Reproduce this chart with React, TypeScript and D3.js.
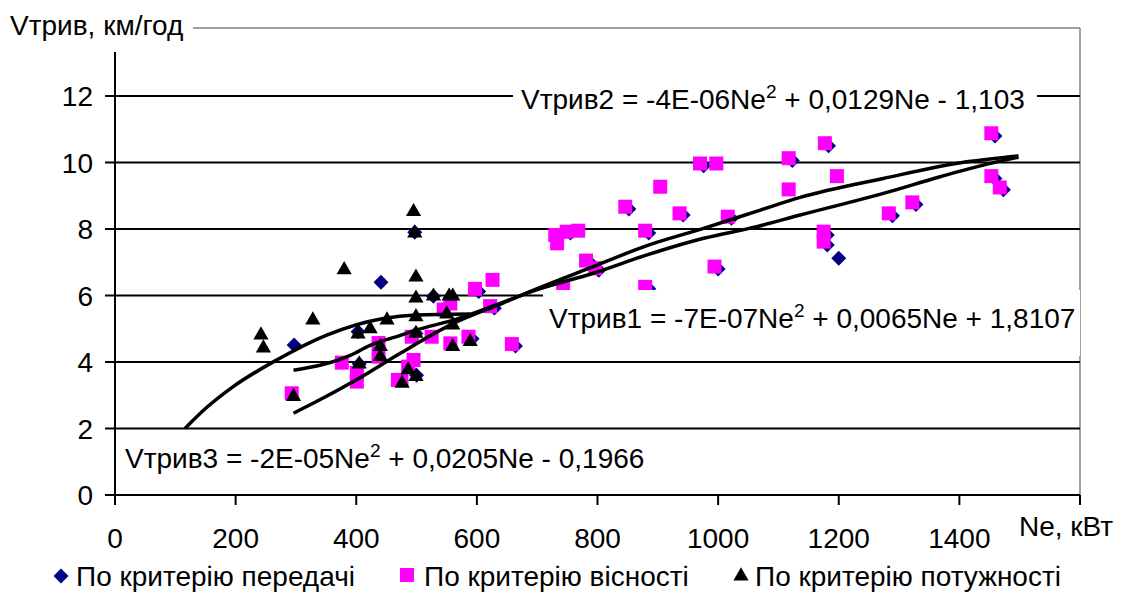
import React from 'react';
import * as d3 from 'd3';

// axis ticks
const neTicks = [0, 200, 400, 600, 800, 1000, 1200, 1400];
const vTicks = [0, 2, 4, 6, 8, 10, 12];

const seriesNames = ['По критерію передачі', 'По критерію вісності', 'По критерію потужності'];

// [Ne, Vтрив]
const peredachi: [number, number][] = [
  [297, 4.51], [403, 4.91], [405, 3.94], [441, 6.4], [497, 7.9], [499, 4.86], [500, 3.6],
  [528, 5.98], [592, 4.7], [603, 6.12], [629, 5.62], [664, 4.48], [737, 7.78], [755, 7.88],
  [787, 7.0], [802, 6.76], [852, 8.6], [885, 7.88], [885, 6.2], [942, 8.42], [976, 9.9],
  [1000, 6.8], [1022, 8.32], [1123, 10.06], [1183, 10.5], [1181, 7.82], [1181, 7.52],
  [1200, 7.12], [1289, 8.4], [1328, 8.74], [1459, 10.8], [1459, 9.52], [1473, 9.18],
];
const visnosti: [number, number][] = [
  [293, 3.06], [376, 3.98], [401, 3.67], [401, 3.41], [437, 4.57], [437, 4.16], [469, 3.46],
  [475, 3.46], [486, 3.86], [492, 4.76], [495, 4.06], [525, 4.76], [545, 5.58], [556, 5.76],
  [556, 4.56], [586, 4.76], [597, 6.2], [622, 5.68], [626, 6.47], [658, 4.54], [730, 7.82],
  [733, 7.57], [743, 6.26], [749, 7.92], [768, 7.95], [781, 7.05], [796, 6.82], [846, 8.67],
  [879, 7.95], [879, 6.26], [904, 9.27], [936, 8.47], [970, 9.97], [994, 6.87], [997, 9.97],
  [1016, 8.37], [1117, 10.13], [1117, 9.19], [1175, 7.92], [1175, 7.62], [1177, 10.58],
  [1197, 9.59], [1283, 8.47], [1322, 8.8], [1453, 10.88], [1453, 9.59], [1467, 9.25],
];
const potuzhnosti: [number, number][] = [
  [242, 4.81], [246, 4.42], [296, 2.96], [328, 5.26], [380, 6.77], [403, 4.84], [405, 3.94],
  [423, 5.0], [440, 4.46], [440, 4.16], [451, 5.26], [476, 3.36], [486, 3.76], [495, 8.52],
  [497, 7.88], [499, 6.55], [499, 5.92], [499, 5.36], [499, 4.86], [499, 3.56], [528, 5.98],
  [550, 5.44], [554, 5.98], [560, 5.98], [560, 5.11], [560, 4.46], [589, 4.61],
];

// trend lines, points
const trend1: [number, number][] = [
  [296, 3.75], [390, 4.2], [423, 4.5], [473, 4.8], [499, 4.96], [561, 5.26], [644, 5.8],
  [699, 6.17], [793, 6.67], [882, 7.22], [976, 7.72], [1064, 8.07], [1136, 8.42],
  [1274, 9.07], [1368, 9.57], [1446, 9.95], [1498, 10.16],
];
const trend2: [number, number][] = [
  [296, 2.46], [334, 2.81], [390, 3.36], [423, 3.71], [473, 4.26], [561, 5.16], [644, 5.78],
  [699, 6.2], [793, 6.87], [882, 7.5], [976, 8.02], [1070, 8.57], [1136, 8.95],
  [1274, 9.52], [1412, 10.02], [1498, 10.2],
];
const trend3: [number, number][] = [
  [116, 2.0], [150, 2.6], [196, 3.26], [268, 4.06], [351, 4.81], [445, 5.31], [499, 5.41],
  [589, 5.44],
];

const eq2 = ['Vтрив2 = -4E-06Ne', '2', ' + 0,0129Ne - 1,103'];
const eq1 = ['Vтрив1 = -7E-07Ne', '2', ' + 0,0065Ne + 1,8107'];
const eq3 = ['Vтрив3 = -2E-05Ne', '2', ' + 0,0205Ne - 0,1966'];

const W = 1133;
const H = 614;
const FONT = 'Liberation Sans, Arial, sans-serif';
const FS = 28;

const x = d3.scaleLinear().domain([0, 1600]).range([115, 1080]);
const y = d3.scaleLinear().domain([0, 14]).range([495, 29.5]);

const diamond = d3.symbol().type(d3.symbolSquare).size(112)();
const square = d3.symbol().type(d3.symbolSquare).size(196)();
const triangle = d3.symbol().type(d3.symbolTriangle).size(100)();

const line = d3.line<[number, number]>().x(d => x(d[0])).y(d => y(d[1])).curve(d3.curveMonotoneX);

function Eq({ parts, tx, ty }: { parts: string[]; tx: number; ty: number }) {
  return (
    <text x={tx} y={ty} fontSize={FS}>
      {parts[0]}
      <tspan dy={-11} fontSize={19}>{parts[1]}</tspan>
      <tspan dy={11}>{parts[2]}</tspan>
    </text>
  );
}

export default function App() {
  const x0 = x(0), x1 = x(1600), y0 = y(0);
  return (
    <svg width={W} height={H} style={{ position: 'absolute', left: 0, top: 0, background: '#fff' }}
      fontFamily={FONT}>
      {/* frame */}
      <line x1={193} x2={x1} y1={28} y2={28} stroke="#808080" strokeWidth={1.5} />
      <line x1={x1} x2={x1} y1={28} y2={y0} stroke="#808080" strokeWidth={1.5} />
      {/* grid */}
      {vTicks.filter(v => v > 0).map(v => (
        <line key={v} x1={x0} x2={x1} y1={y(v)} y2={y(v)} stroke="#000" strokeWidth={2} />
      ))}
      {/* y axis */}
      <line x1={x0} x2={x0} y1={52} y2={y0 + 10} stroke="#000" strokeWidth={2} />
      {vTicks.map(v => (
        <g key={v}>
          <line x1={x0 - 10} x2={x0} y1={y(v)} y2={y(v)} stroke="#000" strokeWidth={2} />
          <text x={93} y={y(v) + 10} fontSize={FS} textAnchor="end">{v}</text>
        </g>
      ))}
      {/* x axis */}
      <line x1={x0 - 10} x2={x1} y1={y0} y2={y0} stroke="#000" strokeWidth={2} />
      {[...neTicks, 1600].map(n => (
        <line key={n} x1={x(n)} x2={x(n)} y1={y0} y2={y0 + 10} stroke="#000" strokeWidth={2} />
      ))}
      {neTicks.map(n => (
        <text key={n} x={x(n)} y={548} fontSize={FS} textAnchor="middle">{n}</text>
      ))}
      <text x={1019} y={536} fontSize={FS}>Ne, кВт</text>

      {/* markers */}
      {peredachi.map((d, i) => (
        <path key={'p' + i} d={diamond} transform={`translate(${x(d[0])},${y(d[1])}) rotate(45)`} fill="#000080" />
      ))}
      {visnosti.map((d, i) => (
        <path key={'v' + i} d={square} transform={`translate(${x(d[0])},${y(d[1])})`} fill="#ff00ff" />
      ))}
      {potuzhnosti.map((d, i) => (
        <path key={'t' + i} d={triangle} transform={`translate(${x(d[0])},${y(d[1])})`} fill="#000" />
      ))}

      {/* trend lines */}
      {[trend1, trend2, trend3].map((t, i) => (
        <path key={i} d={line(t) || ''} fill="none" stroke="#000" strokeWidth={3.5} />
      ))}

      {/* equation labels */}
      <rect x={513} y={82} width={524} height={34} fill="#fff" />
      <Eq parts={eq2} tx={521} ty={109} />
      <rect x={543} y={290} width={537} height={66} fill="#fff" />
      <Eq parts={eq1} tx={549} ty={328} />
      <rect x={x0 + 2} y={430} width={537} height={60} fill="#fff" />
      <Eq parts={eq3} tx={125} ty={468} />

      {/* title */}
      <text x={10} y={35} fontSize={FS}>Vтрив, км/год</text>

      {/* legend */}
      <path d={diamond} transform="translate(61,576) rotate(45)" fill="#000080" />
      <text x={76} y={586} fontSize={FS}>{seriesNames[0]}</text>
      <path d={square} transform="translate(407,575)" fill="#ff00ff" />
      <text x={424} y={586} fontSize={FS}>{seriesNames[1]}</text>
      <path d={triangle} transform="translate(741,576)" fill="#000" />
      <text x={755} y={586} fontSize={FS}>{seriesNames[2]}</text>
    </svg>
  );
}
